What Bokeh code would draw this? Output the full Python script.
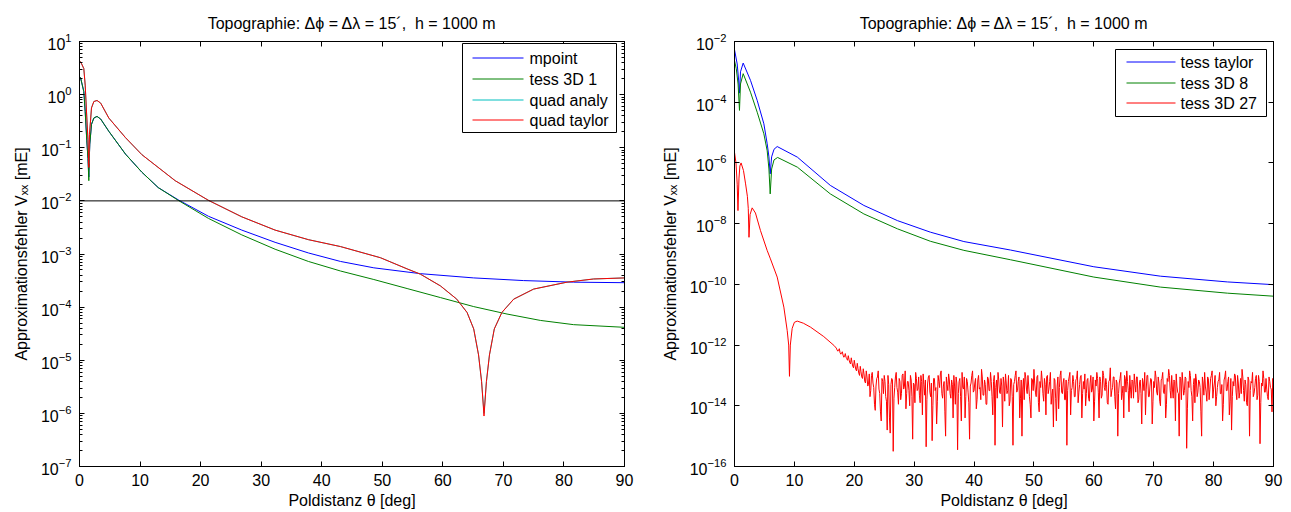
import numpy as np
from bokeh.plotting import figure
from bokeh.layouts import row
from bokeh.models import (LinearAxis, LogAxis, FixedTicker, Span, Label, Arrow, BoxAnnotation,
                          CustomJSTickFormatter, Range1d)
from bokeh.embed import file_html
from bokeh.resources import INLINE

TITLE = "Topographie: Δϕ = Δλ = 15´,\u00a0 h = 1000 m"
XLABEL = "Poldistanz θ [deg]"
YLABEL = "Approximationsfehler Vₓₓ [mE]"
FONT = "Liberation Sans"

# ---------------- left panel (values given as log10 of the error) ----------------
mpoint_x = [0, 0.17, 0.71, 0.94, 1.21, 1.40, 1.54, 1.62, 1.70, 1.98, 2.37, 2.9, 3.5, 4.84, 7.6,
            10.3, 13.0, 16.3, 21.3, 26.8, 32.3, 37.8, 43.1, 48.6, 56.3, 65.1, 73.3, 81.6, 90]
mpoint_log = [0.34, 0.32, 0.06, -0.32, -0.87, -1.2, -1.55, -1.2, -0.93, -0.56, -0.44, -0.41, -0.46,
              -0.69, -1.12, -1.46, -1.75, -1.98, -2.29, -2.55, -2.78, -2.98, -3.14, -3.26, -3.37,
              -3.45, -3.50, -3.53, -3.54]

tess1_x = [0, 0.17, 0.71, 0.94, 1.21, 1.40, 1.54, 1.62, 1.70, 1.98, 2.37, 2.9, 3.5, 4.84, 7.6,
           10.3, 13.0, 16.3, 21.3, 26.8, 32.3, 37.8, 43.1, 48.6, 54.1, 59.6, 65.1, 70.6, 76.1, 81.6, 90]
tess1_log = [0.34, 0.32, 0.06, -0.32, -0.87, -1.2, -1.62, -1.2, -0.93, -0.56, -0.44, -0.41, -0.46,
             -0.69, -1.12, -1.46, -1.75, -1.99, -2.33, -2.64, -2.91, -3.14, -3.32, -3.48, -3.65,
             -3.82, -3.99, -4.13, -4.25, -4.33, -4.38]

quad_x = [0, 0.35, 0.71, 0.94, 1.21, 1.40, 1.54, 1.65, 1.98, 2.37, 2.9, 3.5, 4.84, 7.6, 10.3, 15.8,
          21.3, 26.8, 32.3, 37.8, 43.1, 49.7, 54.1, 56.3, 59.6, 62.3, 64.0, 65.1, 65.9, 66.4, 66.8,
          67.2, 67.7, 68.5, 69.75, 71.7, 75.0, 80.5, 84.9, 90]
quad_analy_log = [0.64, 0.58, 0.49, 0.18, -0.44, -0.85, -1.30, -0.75, -0.25, -0.13, -0.11, -0.16,
                  -0.44, -0.81, -1.13, -1.62, -1.99, -2.30, -2.55, -2.73, -2.86, -3.07, -3.28, -3.38,
                  -3.60, -3.85, -4.10, -4.41, -4.90, -5.40, -6.00, -5.40, -4.90, -4.41, -4.10, -3.85,
                  -3.66, -3.53, -3.47, -3.45]
quad_taylor_log = [0.64, 0.58, 0.49, 0.18, -0.44, -0.85, -1.37, -0.75, -0.25, -0.13, -0.11, -0.16,
                   -0.44, -0.81, -1.13, -1.62, -1.99, -2.30, -2.55, -2.73, -2.86, -3.07, -3.28, -3.38,
                   -3.60, -3.85, -4.10, -4.41, -4.90, -5.40, -6.05, -5.40, -4.90, -4.41, -4.10, -3.85,
                   -3.66, -3.53, -3.47, -3.45]
threshold = 1e-2

# ---------------- right panel ----------------
ttaylor_x = [0, 0.45, 0.7, 0.83, 1.0, 1.45, 2.67, 3.79, 4.9, 5.46, 5.75, 5.96, 6.2, 6.6, 7.13,
             10.5, 16.0, 21.6, 27.2, 32.7, 38.3, 46.1, 60.0, 71.1, 82.3, 90]
ttaylor_log = [-2.27, -2.74, -3.3, -3.7, -3.0, -2.71, -3.28, -3.94, -4.71, -5.37, -5.8, -6.36, -5.8,
               -5.55, -5.46, -5.81, -6.74, -7.40, -7.90, -8.28, -8.59, -8.87, -9.42, -9.73, -9.92,
               -10.01]

t8_x = [0, 0.3, 0.6, 0.83, 1.0, 1.45, 2.67, 3.79, 4.9, 5.46, 5.75, 5.96, 6.2, 6.6, 7.2, 10.5,
        16.0, 21.6, 27.2, 32.7, 38.3, 46.1, 60.0, 71.1, 82.3, 90]
t8_log = [-2.63, -2.9, -3.4, -4.27, -3.4, -3.06, -3.67, -4.33, -5.04, -5.6, -6.2, -7.02, -6.2,
          -5.9, -5.82, -6.14, -7.02, -7.68, -8.17, -8.58, -8.88, -9.19, -9.76, -10.09, -10.29,
          -10.39]

t27_x = [0, 0.25, 0.45, 0.58, 0.75, 0.9, 1.1, 1.5, 1.85, 2.15, 2.3, 2.42, 2.6, 2.95, 3.5, 4.34,
         5.45, 6.0, 7.13, 8.24, 8.8, 9.05, 9.18, 9.32, 9.63, 10.0, 10.47, 11.5, 12.7, 14.9, 16.6]
t27_log = [-5.65, -6.0, -6.7, -7.57, -6.5, -6.1, -6.0, -6.25, -6.69, -7.1, -7.5, -8.45, -7.7,
           -7.48, -7.65, -8.23, -8.88, -9.16, -9.76, -10.75, -11.52, -12.0, -13.03, -12.0, -11.45,
           -11.25, -11.21, -11.28, -11.41, -11.72, -12.01]
# round-off noise floor: samples on a 0.25 deg grid from 17 deg ...
t27_noise_start = 17.0
t27_noise_step = 0.25
t27_noise_log = [
    -12.10, -12.20, -12.12, -12.30, -12.22, -12.40, -12.28, -12.45, -12.35, -12.58,
    -12.42, -12.70, -12.50, -12.80, -12.60, -12.92, -12.70, -13.05, -12.78, -13.20,
    -12.85, -13.35, -12.95, -13.50, -12.90, -13.40, -14.15, -13.10, -12.85, -13.60,
    -14.50, -13.20, -13.00, -13.70, -14.80, -13.30, -14.90, -13.10, -15.50, -13.40,
    -12.90, -13.55, -13.10, -13.80, -13.00, -13.45, -12.85, -13.60, -13.20, -14.00,
    -13.15, -15.10, -13.30, -12.90, -13.50, -13.05, -13.90, -13.20, -12.95, -13.65,
    -15.35, -13.25, -13.00, -13.70, -15.15, -13.10, -13.50, -14.60, -13.00, -13.40,
    -12.85, -13.75, -13.20, -15.00, -13.30, -12.95, -13.60, -13.15, -14.40, -13.35,
    -13.05, -15.45, -13.20, -13.70, -12.90, -13.45, -14.40, -13.10, -13.55, -15.10,
    -13.25, -12.85, -13.50, -13.10, -13.80, -13.00, -13.40, -12.80, -13.65, -13.15,
    -13.95, -13.05, -13.50, -12.90, -13.70, -13.20, -15.30, -13.15, -12.90, -13.55,
    -13.10, -14.70, -13.25, -12.95, -13.60, -13.00, -13.85, -13.15, -15.30, -13.20,
    -12.85, -13.50, -13.05, -13.75, -15.00, -13.10, -12.90, -13.45, -13.00, -13.70,
    -14.40, -13.15, -12.80, -13.55, -13.05, -13.90, -13.20, -12.85, -13.60, -13.10,
    -14.30, -13.00, -13.45, -12.90, -13.65, -14.70, -13.15, -14.50, -13.05, -13.40,
    -12.85, -13.60, -13.10, -13.80, -15.30, -13.20, -12.90, -13.50, -13.00, -13.70,
    -13.15, -12.85, -13.55, -13.05, -14.40, -13.20, -12.95, -13.60, -13.10, -13.85,
    -13.00, -13.45, -14.50, -13.15, -12.90, -13.55, -13.05, -13.75, -12.85, -13.40,
    -13.10, -13.90, -13.20, -12.75, -13.50, -13.05, -13.70, -13.15, -15.00, -13.25,
    -12.90, -13.60, -14.40, -13.10, -12.85, -13.50, -13.00, -13.75, -13.20, -12.95,
    -13.55, -13.05, -13.80, -13.15, -14.60, -13.25, -12.90, -13.45, -13.00, -13.70,
    -13.10, -14.60, -13.20, -12.85, -13.55, -13.05, -13.85, -13.15, -12.90, -13.60,
    -14.40, -13.10, -12.80, -13.50, -13.00, -13.75, -13.20, -12.95, -13.55, -15.00,
    -13.10, -12.90, -13.65, -13.05, -15.40, -13.20, -12.85, -13.50, -14.50, -13.10,
    -12.95, -13.70, -13.15, -13.40, -15.00, -13.25, -12.90, -13.55, -13.05, -13.80,
    -13.10, -12.85, -13.45, -13.00, -13.70, -13.20, -12.90, -13.60, -14.50, -13.15,
    -12.85, -13.50, -13.05, -13.85, -14.80, -13.20, -12.95, -13.55, -13.00, -13.75,
    -13.10, -12.80, -13.50, -13.15, -13.90, -13.05, -15.00, -13.20, -12.90, -13.60,
    -13.10, -13.80, -13.00, -15.25, -13.25, -12.85, -13.55, -13.10, -13.70, -13.05,
    -13.40, -14.20, -13.30]
# ... and the samples lying half-way between them (17.125 deg, 17.375 deg, ...)
t27_mid_start = 17.125
t27_mid_log = [
    -12.16, -12.18, -12.25, -12.27, -12.33, -12.38, -12.40, -12.50, -12.48, -12.62,
    -12.58, -12.75, -12.66, -12.85, -12.78, -13.00, -12.88, -13.10, -12.95, -13.25,
    -13.05, -13.30, -13.70, -13.00, -13.25, -13.95, -13.35, -13.05, -13.45, -14.20,
    -13.10, -13.60, -13.20, -13.85, -13.00, -14.40, -13.30, -13.15, -13.75, -13.05,
    -13.40, -13.95, -13.20, -13.60, -12.95, -13.35, -14.10, -13.20, -13.50, -13.00,
    -13.70, -13.25, -13.90, -13.10, -13.45, -13.65, -13.00, -14.30, -13.30, -13.15,
    -13.80, -13.05, -13.55, -13.25, -14.00, -13.10, -13.40, -13.85, -13.20, -12.95,
    -13.60, -13.35, -14.20, -13.05, -13.50, -13.15, -13.75, -13.30, -13.00, -13.95,
    -13.25, -13.60, -13.10, -14.50, -13.40, -13.05, -13.70, -13.20, -13.90, -13.35,
    -13.00, -13.55, -13.25, -14.10, -13.15, -13.45, -13.80, -13.05, -13.65, -13.30,
    -13.95, -13.10, -13.50, -13.20, -14.30, -13.00, -13.40, -13.75, -13.15, -13.60,
    -13.35, -13.05, -13.85, -13.25, -13.50, -14.00, -13.10, -13.70, -13.30, -13.00,
    -13.55, -13.20, -14.40, -13.15, -13.45, -13.80, -13.05, -13.60, -13.35, -13.95,
    -13.10, -13.50, -13.25, -13.70, -13.00, -14.20, -13.40, -13.15, -13.85, -13.30,
    -13.05, -13.60, -13.20, -13.95, -13.45, -13.10, -13.75, -13.35, -14.10, -13.00,
    -13.55, -13.25, -13.80, -13.15, -13.50, -13.05, -14.30, -13.40, -13.20, -13.70,
    -13.10, -13.90, -13.30, -13.00, -13.60, -13.45, -14.00, -13.15, -13.75, -13.25,
    -13.55, -13.05, -13.85, -13.35, -13.10, -14.40, -13.20, -13.65, -13.00, -13.50,
    -13.30, -13.95, -13.15, -13.70, -13.40, -13.05, -14.10, -13.25, -13.60, -13.10,
    -13.80, -13.35, -13.00, -13.55, -13.20, -14.20, -13.45, -13.15, -13.75, -13.30,
    -13.05, -13.90, -13.25, -13.60, -13.10, -13.50, -14.30, -13.00, -13.70, -13.35,
    -13.15, -13.85, -13.40, -13.05, -13.65, -13.25, -14.00, -13.10, -13.55, -13.30,
    -13.95, -13.20, -13.00, -13.75, -13.45, -13.15, -14.50, -13.35, -13.60, -13.05,
    -13.80, -13.25, -13.50, -13.10, -14.10, -13.40, -13.00, -13.70, -13.30, -13.90,
    -13.15, -13.55, -13.20, -14.20, -13.05, -13.65, -13.35, -13.85, -13.10, -13.45,
    -13.00, -13.75, -13.25, -14.00, -13.40, -13.15, -13.60, -13.30, -13.95, -13.05,
    -13.50, -13.20, -14.30, -13.10, -13.70, -13.35, -13.00, -13.80, -13.25, -13.55,
    -13.60, -13.05, -13.85, -13.30, -14.00, -13.15, -13.50, -13.25, -13.70, -13.40,
    -13.00, -13.65, -13.20, -13.90, -13.35, -13.10, -13.55, -13.45, -13.80, -13.20,
    -13.45, -13.10]

x_ticks = [0, 10, 20, 30, 40, 50, 60, 70, 80, 90]
left_y_ticks = [10.0 ** k for k in range(-7, 2)]
right_y_ticks = [10.0 ** k for k in range(-16, -1, 2)]

BLUE, GREEN, CYAN, RED = "#0000ff", "#008000", "#00bfbf", "#ff0000"
FS = "16px"


def pow10(vals):
    return [10.0 ** v for v in vals]


def style_axis(ax):
    ax.axis_line_color = "black"
    ax.axis_line_width = 1
    ax.major_tick_in = 5
    ax.major_tick_out = 0
    ax.minor_tick_in = 3
    ax.minor_tick_out = 0
    ax.major_tick_line_color = "black"
    ax.minor_tick_line_color = "black"
    ax.major_label_text_font = FONT
    ax.major_label_text_font_size = FS
    ax.major_label_text_color = "black"
    ax.axis_label_text_font = FONT
    ax.axis_label_text_font_size = FS
    ax.axis_label_text_font_style = "normal"
    ax.axis_label_text_color = "black"


def make_fig(width, height, ylo, yhi, yticks, yminor, bl, bt, bb, br):
    p = figure(width=width, height=height, x_range=Range1d(0, 90), y_range=Range1d(ylo, yhi),
               y_axis_type="log", output_backend="svg", toolbar_location=None,
               min_border_left=bl, min_border_top=bt, min_border_bottom=bb, min_border_right=br)
    p.background_fill_color = "white"
    p.border_fill_color = "white"
    p.outline_line_color = "black"
    p.xgrid.visible = False
    p.ygrid.visible = False
    p.title.text = TITLE
    p.title.align = "center"
    p.title.text_font = FONT
    p.title.text_font_size = FS
    p.title.text_font_style = "normal"
    p.title.text_color = "black"
    p.title.standoff = 20

    xa = p.xaxis[0]
    xa.ticker = FixedTicker(ticks=x_ticks, minor_ticks=[])
    style_axis(xa)
    xa.axis_label = XLABEL
    xa.major_label_standoff = 7
    xa.axis_label_standoff = 3

    ya = p.yaxis[0]
    ya.ticker = FixedTicker(ticks=yticks, minor_ticks=yminor)
    style_axis(ya)
    ya.axis_label = YLABEL
    ya.major_label_standoff = 8
    ya.axis_label_standoff = 8

    blank = CustomJSTickFormatter(code="return ''")
    top = LinearAxis(ticker=FixedTicker(ticks=x_ticks, minor_ticks=[]), formatter=blank,
                     major_label_standoff=0)
    style_axis(top)
    p.add_layout(top, "above")
    right = LogAxis(ticker=FixedTicker(ticks=yticks, minor_ticks=yminor), formatter=blank,
                    major_label_standoff=0)
    style_axis(right)
    p.add_layout(right, "right")
    return p


def add_legend(p, labels, colors, box, line_x0, line_x1, text_x, row_y):
    # box = (left, right, top, bottom) in screen units relative to the plot frame
    l, r, t, b = box
    p.add_layout(BoxAnnotation(left=l, right=r, top=t, bottom=b,
                               left_units="screen", right_units="screen",
                               top_units="screen", bottom_units="screen",
                               fill_color="white", fill_alpha=1.0,
                               line_color="black", line_width=1, line_alpha=1.0))
    for lab, col, y in zip(labels, colors, row_y):
        p.add_layout(Arrow(x_start=line_x0, y_start=y, x_end=line_x1, y_end=y,
                           start_units="screen", end_units="screen", start=None, end=None,
                           line_color=col, line_width=1))
        p.add_layout(Label(x=text_x, y=y, x_units="screen", y_units="screen", text=lab,
                           text_font=FONT, text_font_size=FS, text_color="black",
                           text_baseline="middle", text_align="left"))


left_minor = [m * 10.0 ** k for k in range(-7, 1) for m in range(2, 10)]
p1 = make_fig(648, 512, 1e-7, 1e1, left_y_ticks, left_minor, 79, 36, 46, 24)
p1.add_layout(Span(location=threshold, dimension="width", line_color="black", line_width=1))
p1.line(mpoint_x, pow10(mpoint_log), line_color=BLUE, line_width=1)
p1.line(tess1_x, pow10(tess1_log), line_color=GREEN, line_width=1)
p1.line(quad_x, pow10(quad_analy_log), line_color=CYAN, line_width=1)
p1.line(quad_x, pow10(quad_taylor_log), line_color=RED, line_width=1)
add_legend(p1, ["mpoint", "tess 3D 1", "quad analy", "quad taylor"], [BLUE, GREEN, CYAN, RED],
           (383, 537, 423, 334), 393, 444, 450, [408.5, 387.5, 366.5, 346.5])

p2 = make_fig(643, 512, 1e-16, 1e-2, right_y_ticks, [], 86, 41, 46, 18)
noise_pts = [(t27_noise_start + t27_noise_step * i, v) for i, v in enumerate(t27_noise_log)]
noise_pts += [(t27_mid_start + t27_noise_step * i, v) for i, v in enumerate(t27_mid_log)
              if t27_mid_start + t27_noise_step * i < 90]
noise_pts.sort()
t27_all_x = t27_x + [q[0] for q in noise_pts]
t27_all_log = t27_log + [q[1] for q in noise_pts]
p2.line(ttaylor_x, pow10(ttaylor_log), line_color=BLUE, line_width=1)
p2.line(t8_x, pow10(t8_log), line_color=GREEN, line_width=1)
p2.line(t27_all_x, pow10(t27_all_log), line_color=RED, line_width=1)
add_legend(p2, ["tess taylor", "tess 3D 8", "tess 3D 27"], [BLUE, GREEN, RED],
           (381, 532, 417, 350), 392, 441, 446, [404.5, 383.5, 363.5])

layout = row(p1, p2)
open("out.html", "w").write(file_html(layout, INLINE))
